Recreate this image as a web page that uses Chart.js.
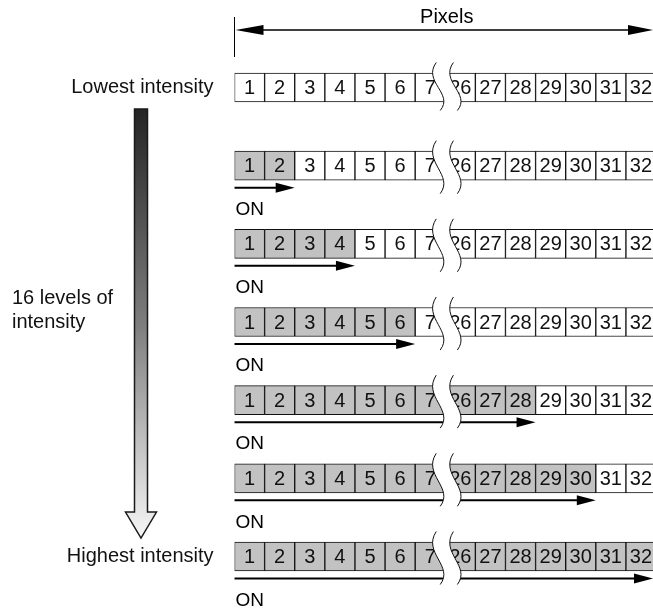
<!DOCTYPE html>
<html>
<head>
<meta charset="utf-8">
<script src="https://cdn.jsdelivr.net/npm/chart.js@4.4.1/dist/chart.umd.min.js"></script>
<style>
  html, body { margin: 0; padding: 0; background: #fff; }
  #wrap { width: 653px; height: 611px; }
</style>
</head>
<body>
<div id="wrap"><canvas id="pwmChart" width="653" height="611"></canvas></div>
<script>
// Pixel columns shown (7 .. 26 are cut out by the break)
const cellNumbers = ['1', '2', '3', '4', '5', '6', '7', '26', '27', '28', '29', '30', '31', '32'];
// One row per intensity step shown
const rowLabels = ['Lowest intensity', '', '', '', '', '', 'Highest intensity'];
// Last pixel switched ON in each row (0 = none)
const onThrough = [0, 2, 4, 6, 28, 30, 32];
const sideText = ['16 levels of', 'intensity'];
const headerText = 'Pixels';
const onText = 'ON';

const FONT = "'Liberation Sans', Arial, Helvetica, sans-serif";
const GRAY = '#c2c2c2';

function onCount(r) {
  if (!onThrough[r]) return 0;
  return cellNumbers.indexOf(String(onThrough[r])) + 1;
}

const datasets = cellNumbers.map((num, i) => ({
  label: num,
  data: rowLabels.map(() => [i, i + 1]),
  backgroundColor: rowLabels.map((_, r) => (i < onCount(r) ? GRAY : '#ffffff')),
  borderColor: '#111',
  borderWidth: 1,
  borderSkipped: false,
  barThickness: 29,
  grouped: false
}));

function arrowHead(ctx, tipX, tipY, len, half, dir) {
  ctx.beginPath();
  ctx.moveTo(tipX, tipY);
  ctx.lineTo(tipX - dir * len, tipY - half);
  ctx.lineTo(tipX - dir * len, tipY + half);
  ctx.closePath();
  ctx.fill();
}

// S-shaped break curve
function breakCurve(ctx, x0, top, h, reverse) {
  const pts = [[x0, top], [x0 - 14, top + 0.4 * h], [x0 + 18, top + 0.65 * h], [x0 + 4, top + h]];
  if (!reverse) {
    ctx.lineTo(pts[0][0], pts[0][1]);
    ctx.bezierCurveTo(pts[1][0], pts[1][1], pts[2][0], pts[2][1], pts[3][0], pts[3][1]);
  } else {
    ctx.lineTo(pts[3][0], pts[3][1]);
    ctx.bezierCurveTo(pts[2][0], pts[2][1], pts[1][0], pts[1][1], pts[0][0], pts[0][1]);
  }
}

const decorations = {
  id: 'decorations',
  afterDatasetsDraw(chart) {
    const { ctx, chartArea, scales: { x, y } } = chart;
    const x0 = x.getPixelForValue(0);
    ctx.save();

    // numbers inside the cells
    ctx.fillStyle = '#111';
    ctx.font = '20px ' + FONT;
    ctx.textAlign = 'center';
    ctx.textBaseline = 'middle';
    rowLabels.forEach((_, r) => {
      const cy = y.getPixelForValue(r);
      cellNumbers.forEach((n, i) => ctx.fillText(n, x.getPixelForValue(i + 0.5), cy + 1));
    });

    // ON arrows under each row
    ctx.strokeStyle = '#000';
    ctx.fillStyle = '#000';
    ctx.lineWidth = 2;
    ctx.font = '19px ' + FONT;
    ctx.textAlign = 'left';
    rowLabels.forEach((_, r) => {
      const n = onCount(r);
      if (!n) return;
      const cy = y.getPixelForValue(r);
      const ay = cy + 22;
      const tip = Math.min(x.getPixelForValue(n), chartArea.right);
      ctx.beginPath();
      ctx.moveTo(x0, ay);
      ctx.lineTo(tip - 10, ay);
      ctx.stroke();
      arrowHead(ctx, tip, ay, 19, 5, 1);
      ctx.fillText(onText, x0 + 1, cy + 44);
    });

    // break between pixel 7 and 26
    const bx1 = x.getPixelForValue(6.7);
    const bx2 = x.getPixelForValue(7.27);
    rowLabels.forEach((_, r) => {
      const cy = y.getPixelForValue(r);
      const top = cy - 25;
      const h = onCount(r) ? 53 : 48;
      ctx.beginPath();
      ctx.moveTo(bx1, top);
      breakCurve(ctx, bx1, top, h, false);
      breakCurve(ctx, bx2, top, h, true);
      ctx.closePath();
      ctx.fillStyle = '#fff';
      ctx.fill();
      ctx.lineWidth = 1;
      ctx.strokeStyle = '#111';
      [bx1, bx2].forEach(bx => {
        ctx.beginPath();
        ctx.moveTo(bx, top);
        breakCurve(ctx, bx, top, h, false);
        ctx.stroke();
      });
    });

    // header: Pixels with double arrow
    const hy = 30;
    ctx.strokeStyle = '#000';
    ctx.fillStyle = '#000';
    ctx.lineWidth = 1;
    ctx.beginPath();
    ctx.moveTo(x0, 17);
    ctx.lineTo(x0, 57);
    ctx.stroke();
    ctx.lineWidth = 1.5;
    ctx.beginPath();
    ctx.moveTo(x0 + 10, hy);
    ctx.lineTo(chartArea.right - 10, hy);
    ctx.stroke();
    arrowHead(ctx, x0 + 1, hy, 28, 5, -1);
    arrowHead(ctx, chartArea.right, hy, 25, 5, 1);
    ctx.font = '20px ' + FONT;
    ctx.textAlign = 'center';
    ctx.textBaseline = 'middle';
    ctx.fillText(headerText, (x0 + chartArea.right) / 2 + 3, 17);

    // intensity arrow on the left
    const top = y.getPixelForValue(0) + 21.5;
    const tipY = y.getPixelForValue(rowLabels.length - 1) - 18.5;
    const headBase = tipY - 26;
    const cx = 141;
    const grad = ctx.createLinearGradient(0, top, 0, tipY);
    grad.addColorStop(0, '#242424');
    grad.addColorStop(0.5, '#7d7d7d');
    grad.addColorStop(1, '#f6f6f6');
    ctx.beginPath();
    ctx.moveTo(cx - 6.5, top);
    ctx.lineTo(cx + 6.5, top);
    ctx.lineTo(cx + 6.5, headBase);
    ctx.lineTo(cx + 15.5, headBase);
    ctx.lineTo(cx, tipY);
    ctx.lineTo(cx - 15.5, headBase);
    ctx.lineTo(cx - 6.5, headBase);
    ctx.closePath();
    ctx.fillStyle = grad;
    ctx.fill();
    ctx.strokeStyle = '#1a1a1a';
    ctx.lineWidth = 1.5;
    ctx.stroke();

    ctx.fillStyle = '#111';
    ctx.font = '20px ' + FONT;
    ctx.textAlign = 'left';
    ctx.fillText(sideText[0], 12, 298);
    ctx.fillText(sideText[1], 12, 322);

    ctx.restore();
  }
};

new Chart(document.getElementById('pwmChart'), {
  type: 'bar',
  data: { labels: rowLabels, datasets: datasets },
  options: {
    indexAxis: 'y',
    responsive: false,
    animation: false,
    layout: { padding: { top: 48.4, bottom: 15.4, left: 0, right: 0 } },
    plugins: {
      legend: { display: false },
      tooltip: { enabled: false }
    },
    scales: {
      x: {
        type: 'linear',
        min: 0,
        max: 13.9,
        display: false
      },
      y: {
        type: 'category',
        offset: true,
        grid: { display: false, drawTicks: true, tickLength: 21 },
        border: { display: false },
        afterFit: scale => { scale.width = 234.5; },
        ticks: {
          autoSkip: false,
          padding: 0,
          color: '#111',
          font: { family: FONT, size: 20 }
        }
      }
    }
  },
  plugins: [decorations]
});
</script>
</body>
</html>
